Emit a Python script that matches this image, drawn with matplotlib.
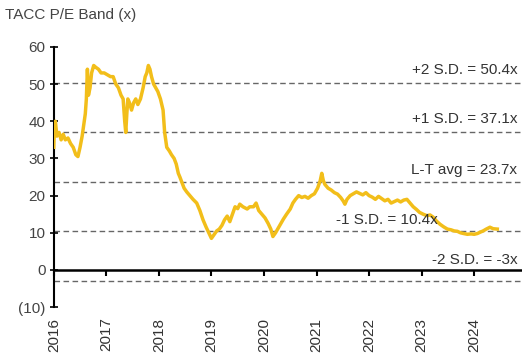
import numpy as np
import matplotlib.pyplot as plt

plt.rcParams['font.family'] = ['Liberation Sans', 'DejaVu Sans']

# P/E multiple, sampled along decimal years
years = [2016.00, 2016.01, 2016.03, 2016.06, 2016.10, 2016.14, 2016.18, 2016.22, 2016.27, 2016.32,
         2016.37, 2016.42, 2016.46, 2016.50, 2016.54, 2016.58, 2016.60, 2016.62, 2016.64, 2016.66,
         2016.69, 2016.72, 2016.76, 2016.80, 2016.85, 2016.90, 2016.96, 2017.02, 2017.08, 2017.13,
         2017.18, 2017.23, 2017.28, 2017.32, 2017.35, 2017.37, 2017.39, 2017.41, 2017.44, 2017.48,
         2017.52, 2017.56, 2017.60, 2017.65, 2017.70, 2017.74, 2017.77, 2017.80, 2017.83, 2017.86,
         2017.90, 2017.94, 2017.98, 2018.03, 2018.08, 2018.11, 2018.15, 2018.20, 2018.24, 2018.29,
         2018.33, 2018.37, 2018.40, 2018.44, 2018.48, 2018.53, 2018.59, 2018.65, 2018.72, 2018.78,
         2018.84, 2018.90, 2018.95, 2019.00, 2019.05, 2019.10, 2019.15, 2019.20, 2019.25, 2019.30,
         2019.35, 2019.40, 2019.45, 2019.50, 2019.54, 2019.60, 2019.68, 2019.73, 2019.80, 2019.85,
         2019.90, 2019.96, 2020.02, 2020.08, 2020.13, 2020.17, 2020.22, 2020.26, 2020.32, 2020.37,
         2020.43, 2020.50, 2020.55, 2020.60, 2020.66, 2020.72, 2020.78, 2020.84, 2020.90, 2020.96,
         2021.02, 2021.07, 2021.10, 2021.13, 2021.16, 2021.22, 2021.28, 2021.34, 2021.40, 2021.46,
         2021.51, 2021.54, 2021.58, 2021.64, 2021.70, 2021.76, 2021.82, 2021.88, 2021.94, 2022.00,
         2022.06, 2022.12, 2022.18, 2022.24, 2022.30, 2022.36, 2022.42, 2022.48, 2022.54, 2022.60,
         2022.66, 2022.72, 2022.78, 2022.84, 2022.90, 2022.96, 2023.03, 2023.10, 2023.16, 2023.22,
         2023.28, 2023.35, 2023.42, 2023.49, 2023.56, 2023.62, 2023.68, 2023.74, 2023.80, 2023.87,
         2023.94, 2024.00, 2024.06, 2024.12, 2024.17, 2024.23, 2024.30, 2024.36, 2024.44]
pe = [33, 38, 40, 36, 37, 35, 36.5, 35, 35.5, 34,
      33, 31, 30.5, 33, 36, 40, 42, 46, 54, 47,
      49, 53, 55, 54.5, 54, 53, 53, 52.5, 52, 52,
      50, 49, 47, 46, 40, 37, 42, 46, 45, 43,
      45, 46, 44.5, 46, 49, 52, 53, 55, 54, 52,
      50, 49, 48, 46, 43, 37, 33, 32, 31, 30,
      28.5, 26, 25, 23.5, 22, 21, 20, 19, 18, 16,
      13.5, 11.5, 10, 8.5, 9.5, 10.5, 11, 12, 13.5, 14.5,
      13, 15, 17, 16.5, 17.7, 17, 16.4, 17, 17, 18,
      16, 15, 14, 12.5, 11, 9, 10, 11, 12.5, 13.7,
      15, 16.4, 18, 19, 20, 19.5, 19.8, 19.3, 20, 20.5,
      22, 24, 26, 24, 23, 22, 21.5, 20.8, 20.4, 19.5,
      18.5, 17.7, 19, 20, 20.5, 21, 20.6, 20.2, 20.8, 20,
      19.6, 19, 19.8, 19.2, 18.6, 19, 18, 18.4, 18.8, 18.3,
      18.8, 19, 18, 17, 16.3, 15.5, 15, 14.6, 14.8, 14.2,
      13.2, 12.3, 11.6, 11, 10.8, 10.5, 10.4, 10, 9.8, 9.6,
      9.7, 9.6, 9.8, 10.2, 10.5, 11, 11.5, 11.1, 11]

band_levels = [50.4, 37.1, 23.7, 10.4, -3]
band_labels = ['+2 S.D. = 50.4x', '+1 S.D. = 37.1x', 'L-T avg = 23.7x', '-1 S.D. = 10.4x', '-2 S.D. = -3x']
band_label_x = [2024.82, 2024.82, 2024.82, 2023.30, 2024.82]
band_label_y = [53.9, 40.5, 26.8, 13.4, 2.7]

year_ticks = list(range(2016, 2025))
y_ticks = [60, 50, 40, 30, 20, 10, 0, -10]
y_tick_labels = ['60', '50', '40', '30', '20', '10', '0', '(10)']

fig = plt.figure(figsize=(5.22, 3.58), dpi=100)
ax = fig.add_axes([0.103, 0.142, 0.897, 0.727])

for lvl in band_levels:
    ax.axhline(lvl, color='#666666', lw=1.0, ls=(0, (4, 2.5)), zorder=1)
ax.plot(years, pe, color='#F2BE1A', lw=2.5, zorder=3)

for lx, ly, txt in zip(band_label_x, band_label_y, band_labels):
    ax.text(lx, ly, txt, ha='right', va='center', fontsize=11, color='#333333')

ax.set_xlim(2016, 2024.91)
ax.set_ylim(-10, 60)
ax.set_yticks(y_ticks)
ax.set_yticklabels(y_tick_labels)
ax.set_xticks(year_ticks)
ax.set_xticklabels([])

ax.spines['top'].set_visible(False)
ax.spines['right'].set_visible(False)
ax.spines['bottom'].set_position(('data', 0))
ax.spines['bottom'].set_linewidth(1.8)
ax.spines['left'].set_linewidth(1.5)
ax.tick_params(axis='y', direction='inout', length=6, width=1.2, labelsize=11, labelcolor='#444444', pad=3)
ax.tick_params(axis='x', direction='out', length=4, width=1.5)

# year labels sit below the plot, not on the zero line
for yr in year_ticks:
    ax.text(yr, -0.04, str(yr), rotation=90, ha='center', va='top', fontsize=11,
            color='#333333', transform=ax.get_xaxis_transform())

fig.text(0.01, 1 - 15 / 358, 'TACC P/E Band (x)', ha='left', va='center', fontsize=11, color='#444444')

fig.savefig('out.png', dpi=100)
